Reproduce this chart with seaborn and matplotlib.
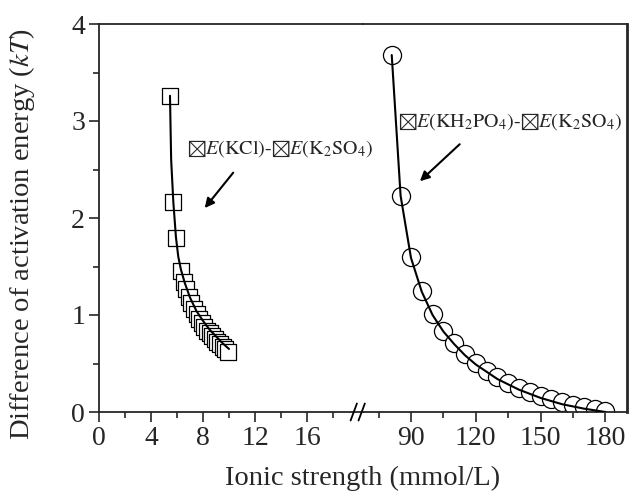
import numpy as np
import pandas as pd
import matplotlib
matplotlib.use("Agg")
import matplotlib.pyplot as plt
import seaborn as sns

# ---- data ----
kcl_x = [5.46, 5.72, 5.92, 6.3, 6.5, 6.7, 6.9, 7.1, 7.3, 7.5, 7.7, 7.9, 8.1,
         8.3, 8.5, 8.7, 8.9, 9.1, 9.3, 9.5, 9.7, 9.9]
kcl_y = [3.26, 2.16, 1.79, 1.45, 1.34, 1.27, 1.19, 1.12, 1.06, 1.01, 0.96,
         0.92, 0.88, 0.84, 0.81, 0.78, 0.75, 0.72, 0.70, 0.67, 0.65, 0.62]
kcl_fit_x = [5.46, 5.55, 5.72, 5.92, 6.1, 6.3, 6.6, 7.0, 7.5, 8.0, 8.5, 9.0, 9.5, 10.0]
kcl_fit_y = [3.26, 2.60, 2.16, 1.80, 1.60, 1.47, 1.33, 1.18, 1.04, 0.94, 0.85, 0.78, 0.71, 0.65]

kh_x = [81.1, 85.2, 90, 95, 100, 105, 110, 115, 120, 125, 130, 135, 140, 145,
        150, 155, 160, 165, 170, 175, 180]
kh_y = [3.68, 2.23, 1.595, 1.25, 1.007, 0.838, 0.708, 0.598, 0.502, 0.426,
        0.357, 0.302, 0.25, 0.203, 0.165, 0.131, 0.103, 0.072, 0.048, 0.028, 0.007]
kh_fit_x = [81.1, 85.2, 90, 95, 100, 105, 110, 115, 120, 130, 140, 150, 160, 170, 180]
kh_fit_y = [3.68, 2.23, 1.59, 1.24, 1.00, 0.83, 0.70, 0.585, 0.49, 0.34, 0.23,
            0.145, 0.08, 0.035, 0.0]

left_ticks = [0, 4, 8, 12, 16]
right_ticks = [90, 120, 150, 180]
y_ticks = [0, 1, 2, 3, 4]

sns.set_style("ticks")
plt.rcParams['font.family'] = ['Liberation Serif', 'DejaVu Sans']
plt.rcParams['mathtext.fontset'] = 'stix'

W, H = 630, 503
fig = plt.figure(figsize=(W / 100, H / 100), dpi=100)
bottom = 91 / H
height = 388 / H
ax1 = fig.add_axes([99 / W, bottom, 264 / W, height])
ax2 = fig.add_axes([363 / W, bottom, 264 / W, height], sharey=ax1)
ax2.patch.set_visible(False)

df1 = pd.DataFrame({"x": kcl_x, "y": kcl_y})
df1f = pd.DataFrame({"x": kcl_fit_x, "y": kcl_fit_y})
df2 = pd.DataFrame({"x": kh_x, "y": kh_y})
df2f = pd.DataFrame({"x": kh_fit_x, "y": kh_fit_y})

sns.scatterplot(data=df1, x="x", y="y", ax=ax1, marker="s", s=140,
                facecolor="white", edgecolor="black", linewidth=0.9, zorder=2)
sns.lineplot(data=df1f, x="x", y="y", ax=ax1, color="black", lw=1.5,
             sort=False, estimator=None, zorder=3)
sns.scatterplot(data=df2, x="x", y="y", ax=ax2, marker="o", s=170,
                facecolor="white", edgecolor="black", linewidth=0.9, zorder=2)
sns.lineplot(data=df2f, x="x", y="y", ax=ax2, color="black", lw=1.5,
             sort=False, estimator=None, zorder=3)

ax1.set_xlim(0, 264 / 13)
ax2.set_xlim(67.8, 190)
ax1.set_ylim(0, 4)

for ax in (ax1, ax2):
    for s in ax.spines.values():
        s.set_linewidth(1.3)
    ax.set_xlabel("")
    ax.set_ylabel("")
ax1.spines['right'].set_visible(False)
ax2.spines['left'].set_visible(False)
ax2.spines['right'].set_linewidth(2.0)

ax1.set_xticks(left_ticks)
ax1.set_xticks([2, 6, 10, 14, 18], minor=True)
ax2.set_xticks(right_ticks)
ax2.set_xticks([75, 105, 135, 165], minor=True)
ax1.set_yticks(y_ticks)
ax1.set_yticks([0.5, 1.5, 2.5, 3.5], minor=True)

ax1.tick_params(axis='both', which='major', direction='out', length=7, width=1.2,
                labelsize=20, pad=3)
ax1.tick_params(axis='both', which='minor', direction='out', length=4, width=1.2)
ax2.tick_params(axis='x', which='major', direction='out', length=7, width=1.2,
                labelsize=20, pad=3)
ax2.tick_params(axis='x', which='minor', direction='out', length=4, width=1.2)
ax2.tick_params(axis='y', which='both', left=False, labelleft=False)

# break marks
for xx in (-0.035, -0.005):
    ax2.plot([xx - 0.012, xx + 0.012], [-0.022, 0.022], transform=ax2.transAxes,
             color='black', lw=1.3, clip_on=False)

fig.text((99 + 627) / 2 / W, 1 - 478 / H, "Ionic strength (mmol/L)",
         ha='center', va='center', fontsize=20.5)
fig.text(22 / W, 1 - 234 / H, r"Difference of activation energy ($\mathit{kT}$)",
         ha='center', va='center', rotation=90, fontsize=20.5)

lbl1 = r"${\boxtimes}\mathit{E}\mathrm{(KCl)}\text{-}{\boxtimes}\mathit{E}\mathrm{(K_2SO_4)}$"
lbl2 = r"${\boxtimes}\mathit{E}\mathrm{(KH_2PO_4)}\text{-}{\boxtimes}\mathit{E}\mathrm{(K_2SO_4)}$"

ax1.annotate("", xy=(8.0, 2.08), xytext=(10.46, 2.49),
             arrowprops=dict(arrowstyle='-|>', lw=1.5, color='black', mutation_scale=14))
ax1.text(6.77, 2.72, lbl1, fontsize=14.5, ha='left', va='center', zorder=5)
ax2.annotate("", xy=(93.2, 2.36), xytext=(113.5, 2.78),
             arrowprops=dict(arrowstyle='-|>', lw=1.5, color='black', mutation_scale=14))
ax2.text(84.0, 2.99, lbl2, fontsize=14.5, ha='left', va='center')

fig.savefig("out.png", dpi=100)
